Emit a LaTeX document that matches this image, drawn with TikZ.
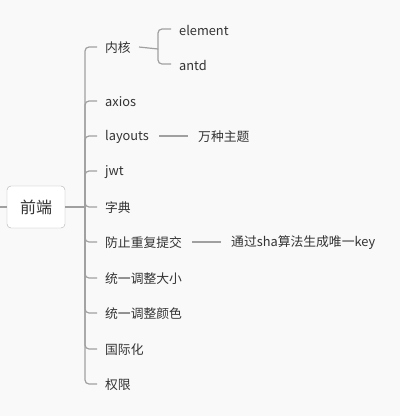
\documentclass[tikz,border=0pt]{standalone}
\usepackage{fontspec}
\setmainfont{Noto Sans CJK SC}
\definecolor{bgcol}{HTML}{F9F9F9}
\definecolor{linecol}{HTML}{A0A0A0}
\definecolor{textcol}{HTML}{333333}
\definecolor{boxcol}{HTML}{B0B0B0}
\tikzset{
  topic/.style={anchor=west, inner xsep=2pt, inner ysep=1pt, text=textcol, font=\fontsize{12.8}{14}\selectfont},
  rootbox/.style={draw=boxcol, fill=white, rounded corners=4pt, minimum width=58pt, minimum height=42pt, text=textcol, font=\fontsize{16}{18}\selectfont},
  branch/.style={draw=linecol, line width=1.2pt, rounded corners=4pt}
}
\begin{document}
\begin{tikzpicture}[x=1pt,y=-1pt]
        \fill[bgcol] (0,0) rectangle (400,416);
        \useasboundingbox (0,0) rectangle (400,416);

        % Root
        \node[rootbox] (root) at (36,207) {前端};
        \coordinate (inlet) at (0,207);
        \coordinate (hub) at (85,207);

        % Topics
        \node[topic] (kernel) at (103,48) {内核};
        \node[topic] (axios) at (103,102) {axios};
        \node[topic] (layouts) at (103,137) {layouts};
        \node[topic] (jwt) at (103,172) {jwt};
        \node[topic] (dict) at (103,208) {字典};
        \node[topic] (resubmit) at (103,243) {防止重复提交};
        \node[topic] (size) at (103,279) {统一调整大小};
        \node[topic] (color) at (103,314) {统一调整颜色};
        \node[topic] (intl) at (103,350) {国际化};
        \node[topic] (perm) at (103,385) {权限};

        % Subtopics
        \node[topic] (element) at (177,30) {element};
        \node[topic] (antd) at (177,65) {antd};
        \node[topic] (themes) at (196,137) {万种主题};
        \node[topic] (shakey) at (229,243) {通过sha算法生成唯一key};
        \coordinate (kernelhub) at (158,49);

        % Lines
        \draw[branch] (inlet) -- (root.west);
        \draw[branch] (root.east) -- (hub);
        \foreach \t in {kernel,axios,layouts,jwt,dict,resubmit,size,color,intl,perm}
          \draw[branch] (hub) |- ([xshift=-6pt,yshift=1pt]\t.west);
        \draw[branch] ([xshift=6pt,yshift=1pt]kernel.east) -- (kernelhub);
        \draw[branch] (kernelhub) |- ([xshift=-6pt,yshift=1pt]element.west);
        \draw[branch] (kernelhub) |- ([xshift=-6pt,yshift=1pt]antd.west);
        \draw[branch] ([xshift=8pt,yshift=1pt]layouts.east) -- ([xshift=-8pt,yshift=1pt]themes.west);
        \draw[branch] ([xshift=8pt,yshift=1pt]resubmit.east) -- ([xshift=-8pt,yshift=1pt]shakey.west);
    \end{tikzpicture}
\end{document}
